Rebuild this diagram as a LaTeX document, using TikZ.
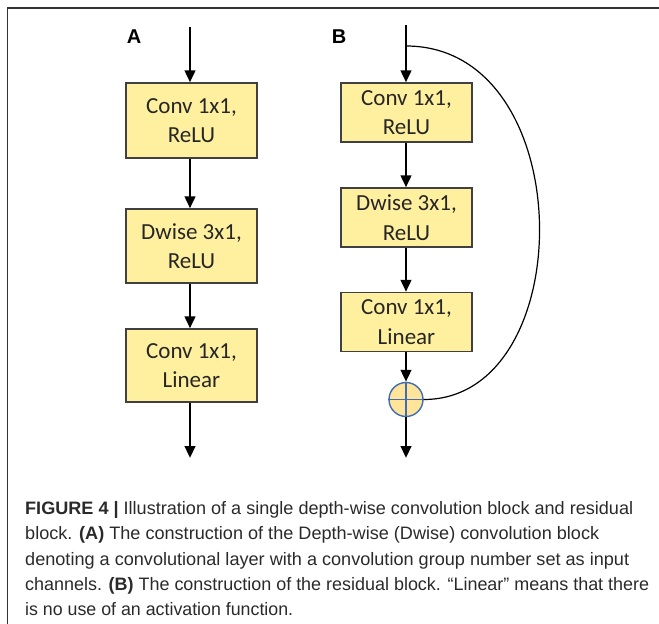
\documentclass[tikz,border=0pt]{standalone}
\usepackage{fontspec}
\usepackage{graphicx}
\setmainfont{Liberation Sans}
\newfontfamily\boxfont{Carlito}
\newfontfamily\capfont{Liberation Sans}
\usetikzlibrary{arrows.meta}
\definecolor{boxfill}{HTML}{FFF0A0}
\definecolor{boxedge}{HTML}{404040}
\definecolor{sumfill}{HTML}{FFE49A}
\definecolor{sumedge}{HTML}{3E6DB5}
\definecolor{captext}{HTML}{2A2A2A}
\newsavebox\capbox
\newdimen\capwd
\newcommand\fitline[2]{\sbox\capbox{#2}\capwd=\wd\capbox
  \pgfmathsetmacro\fitsx{#1/\the\capwd}\scalebox{\fitsx}[1]{\usebox\capbox}}
\tikzset{
  layer/.style={draw=boxedge, line width=1.3pt, fill=boxfill, align=center,
    font=\boxfont\fontsize{23}{29.5}\selectfont, inner sep=0pt, text=black!85,
    minimum width=131pt},
  flow/.style={line width=2.6pt, -{Triangle[length=12pt,width=10.5pt]}},
  sumnode/.style={circle, draw=sumedge, line width=1.4pt, fill=sumfill, minimum size=34pt, inner sep=0pt},
  panel/.style={font=\bfseries\fontsize{20}{20}\selectfont},
  capline/.style={anchor=base west, inner sep=0pt, text=captext,
    font=\capfont\fontsize{18}{20}\selectfont}
}
\begin{document}
\begin{tikzpicture}[x=1pt,y=-1pt]
\useasboundingbox (0,0) rectangle (659,624);
% frame
\draw[line width=1.4pt, color=black!80] (659,8) -- (7.5,8) -- (7.5,624);
% panel labels
\node[panel] (la) at (134,37) {A};
\node[panel] (lb) at (339,37) {B};
% column A
\coordinate (ainA) at (190,27);
\node[layer, minimum height=75pt] (a1) at (191.5,120.5) {Conv 1x1,\\ReLU};
\node[layer, minimum height=74pt] (a2) at (191.5,246) {Dwise 3x1,\\ReLU};
\node[layer, minimum height=73pt] (a3) at (191.5,365.5) {Conv 1x1,\\Linear};
\coordinate (aout) at (190,458);
\draw[flow] (ainA) -- (ainA |- a1.north);
\draw[flow] (a1.south -| ainA) -- (a2.north -| ainA);
\draw[flow] (a2.south -| ainA) -- (a3.north -| ainA);
\draw[flow] (a3.south -| ainA) -- (aout);
% column B
\coordinate (bin) at (406,25);
\coordinate (split) at (406,46);
\node[layer, minimum height=59pt] (b1) at (406.5,112.5) {Conv 1x1,\\ReLU};
\node[layer, minimum height=59pt] (b2) at (406.5,217.5) {Dwise 3x1,\\ReLU};
\node[layer, minimum height=59pt] (b3) at (406.5,322) {Conv 1x1,\\Linear};
\node[sumnode] (sum) at (406,399.5) {};
\draw[sumedge, line width=1.4pt] (sum.north) -- (sum.south) (sum.west) -- (sum.east);
\coordinate (bout) at (406,458);
\draw[flow] (bin) -- (bin |- b1.north);
\draw[flow] (b1.south -| bin) -- (b2.north -| bin);
\draw[flow] (b2.south -| bin) -- (b3.north -| bin);
\draw[flow] (b3.south -| bin) -- (sum.north);
\draw[flow] (sum.south) -- (bout);
\draw[line width=1.2pt] (split) .. controls (581,46) and (581,399.5) .. (sum.east);
% caption
\node[capline] (cap1) at (25,514) {\fitline{608pt}{\textbf{FIGURE 4 |} Illustration of a single depth-wise convolution block and residual}};
\node[capline] (cap2) at (25,539.5) {\fitline{574pt}{block. \textbf{(A)} The construction of the Depth-wise (Dwise) convolution block}};
\node[capline] (cap3) at (25,565) {\fitline{604pt}{denoting a convolutional layer with a convolution group number set as input}};
\node[capline] (cap4) at (25,590) {\fitline{624pt}{channels. \textbf{(B)} The construction of the residual block. “Linear” means that there}};
\node[capline] (cap5) at (25,615) {\fitline{268pt}{is no use of an activation function.}};
\end{tikzpicture}
\end{document}
